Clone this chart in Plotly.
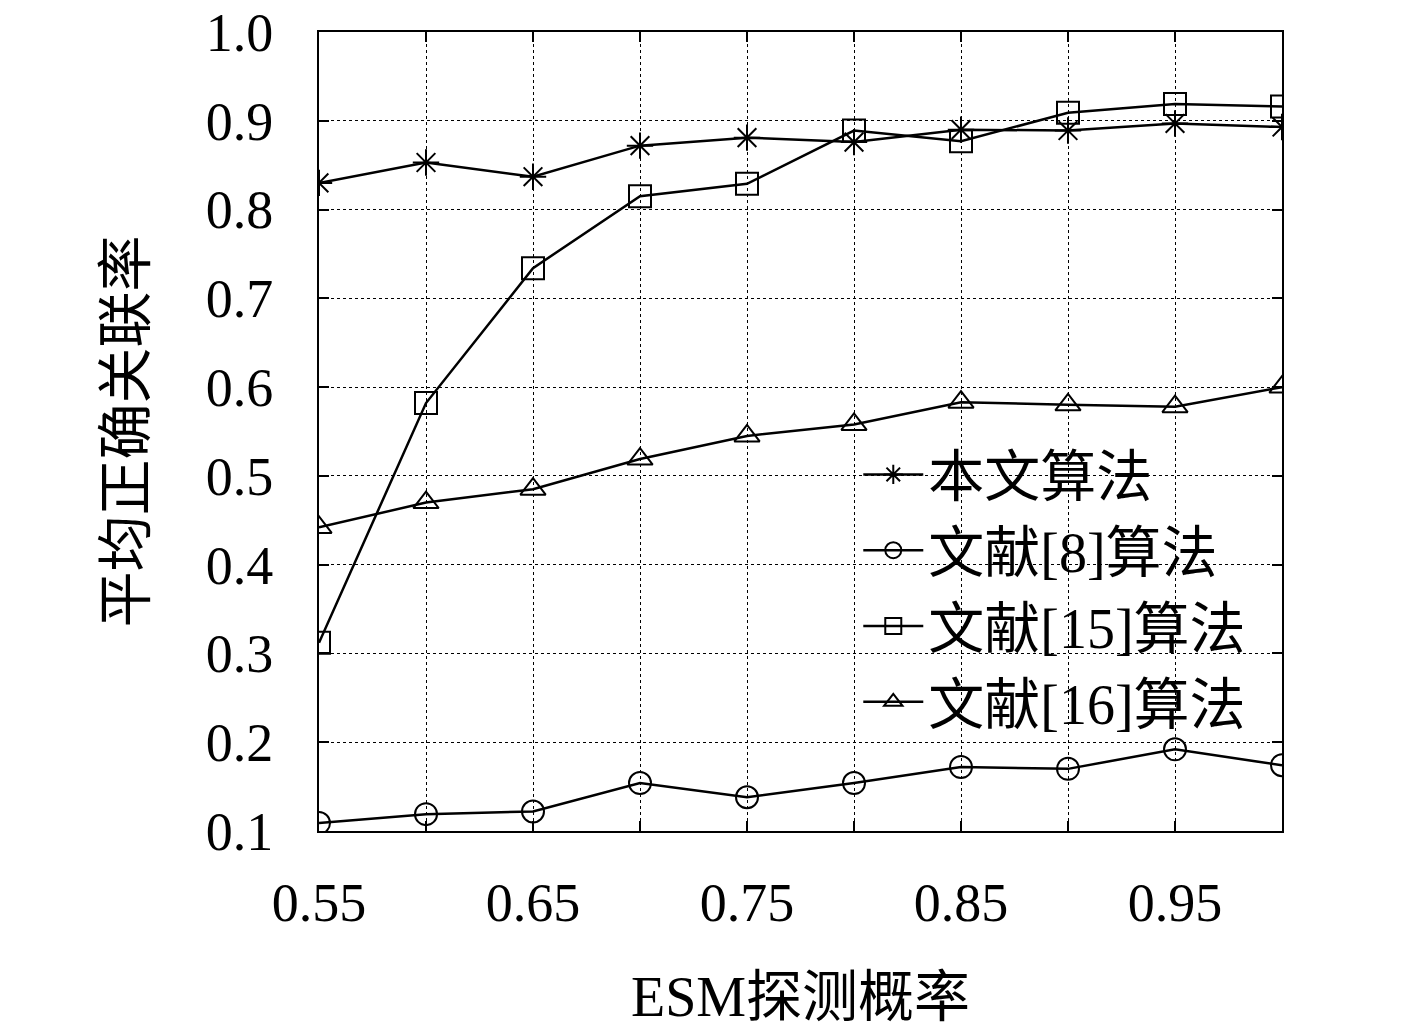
import plotly.graph_objects as go

# ESM detection probability
x_prob = [0.55, 0.60, 0.65, 0.70, 0.75, 0.80, 0.85, 0.90, 0.95, 1.00]

# average correct association rate for each method
ours = [0.830, 0.853, 0.837, 0.872, 0.881, 0.876, 0.890, 0.889, 0.897, 0.893]
ref8 = [0.109, 0.119, 0.122, 0.154, 0.138, 0.154, 0.172, 0.170, 0.192, 0.174]
ref15 = [0.312, 0.582, 0.734, 0.815, 0.829, 0.889, 0.877, 0.909, 0.919, 0.916]
ref16 = [0.442, 0.470, 0.485, 0.519, 0.545, 0.558, 0.583, 0.580, 0.578, 0.600]

names = ["本文算法", "文献[8]算法", "文献[15]算法", "文献[16]算法"]
symbols = ["asterisk-open", "circle-open", "square-open", "triangle-up-open"]
sizes = [22, 22, 22, 22]

x_ticks = x_prob
x_labels = ["0.55", "", "0.65", "", "0.75", "", "0.85", "", "0.95", ""]
y_ticks = [0.1, 0.2, 0.3, 0.4, 0.5, 0.6, 0.7, 0.8, 0.9, 1.0]
y_labels = ["0.1", "0.2", "0.3", "0.4", "0.5", "0.6", "0.7", "0.8", "0.9", "1.0"]

FONT = "Liberation Serif, Noto Sans CJK SC, serif"
FS = 56
TICK_FS = 54

fig = go.Figure()
for ys, nm, sym, sz in zip([ours, ref8, ref15, ref16], names, symbols, sizes):
    fig.add_trace(go.Scatter(x=x_prob, y=ys, name=nm, mode="lines+markers",
                             line=dict(color="black", width=2.5),
                             marker=dict(symbol=sym, size=sz, color="black",
                                         line=dict(color="black", width=2))))

axis_common = dict(showline=True, linecolor="black", linewidth=2, mirror="ticks",
                   ticks="inside", ticklen=10, tickwidth=1.5, tickcolor="black",
                   showgrid=True, gridcolor="black", gridwidth=1, griddash="dot",
                   zeroline=False, automargin=False, ticklabeloverflow="allow",
                   tickfont=dict(family=FONT, size=TICK_FS, color="black"))

fig.update_xaxes(range=[0.55, 1.0], tickvals=x_ticks, ticktext=x_labels,
                 ticklabelstandoff=23,
                 title=dict(text="ESM探测概率", font=dict(family=FONT, size=FS, color="black"),
                            standoff=45),
                 **axis_common)
fig.update_yaxes(range=[0.1, 1.0], tickvals=y_ticks, ticktext=y_labels,
                 ticklabelstandoff=33,
                 title=dict(text="平均正确关联率", font=dict(family=FONT, size=FS, color="black"),
                            standoff=42),
                 **axis_common)

fig.update_layout(width=1417, height=1035,
                  margin=dict(l=311, r=143, t=24, b=212),
                  plot_bgcolor="white", paper_bgcolor="white",
                  font=dict(family=FONT, color="black"),
                  legend=dict(x=0.56, y=0.50, xanchor="left", yanchor="top",
                              bgcolor="rgba(255,255,255,0)", borderwidth=0,
                              font=dict(family=FONT, size=FS, color="black"),
                              itemwidth=60, tracegroupgap=0))

fig.write_html("out.html")
